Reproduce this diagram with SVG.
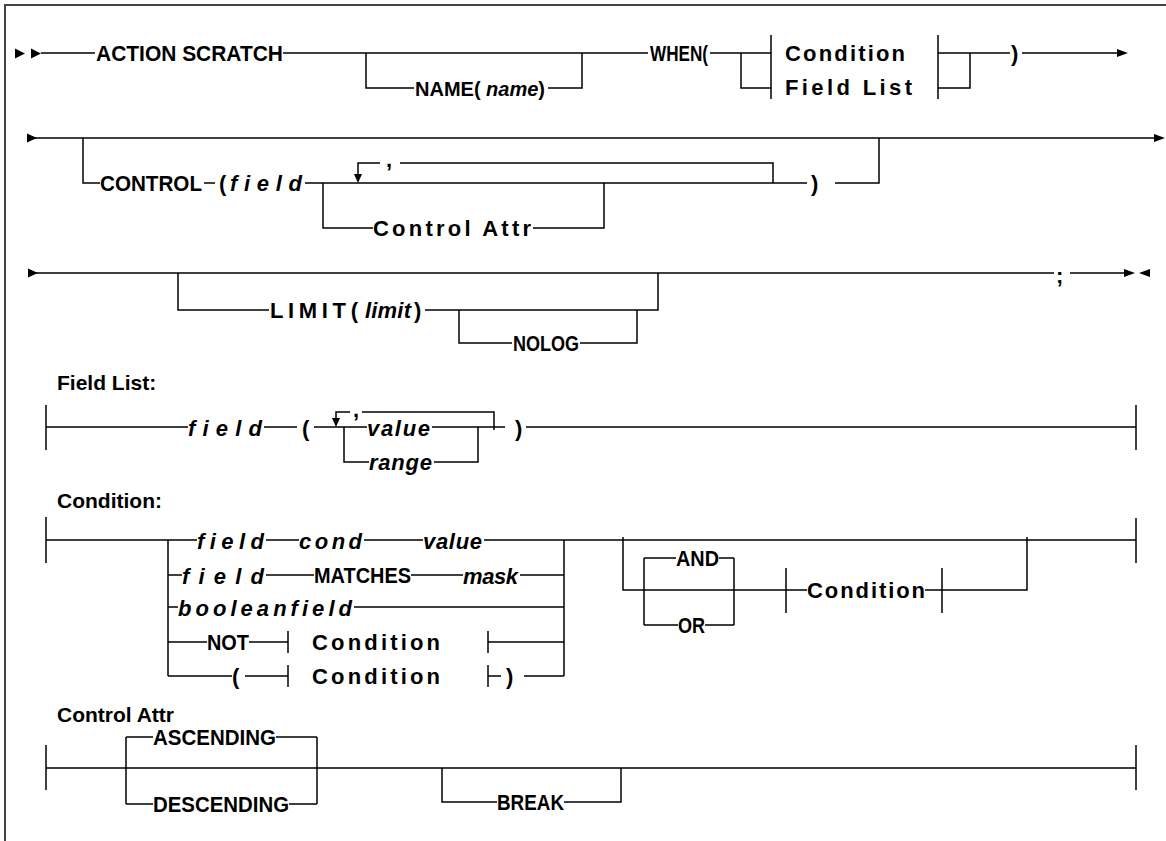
<svg xmlns="http://www.w3.org/2000/svg" width="1166" height="841" viewBox="0 0 1166 841">
<style>
.c{fill:none;stroke:#000;stroke-width:1.5}
.ah{fill:#000}
.t{font-family:"Liberation Sans",Arial,sans-serif;font-weight:bold;font-size:22px;fill:#000}
.i{font-style:italic}
.lbl{font-size:21px}
.frame{fill:none;stroke:#444;stroke-width:2}
</style>
<rect width="1166" height="841" fill="#fff"/>
<path class="frame" d="M5,841 V5 H1166"/>
<g id="connectors">
<!-- row 1 -->
<polygon class="ah" points="15,48.5 25,53.5 15,58.5"/>
<polygon class="ah" points="31,48.5 41,53.5 31,58.5"/>
<path class="c" d="M41,53 H95 M283,53 H648 M366,53 V88 H414 M548,88 H582 V53 M710,53 H771 M741,53 V88 H771 M771,35 V99 M938,35 V99 M938,53 H1010 M970,53 V88 H938 M1022,53 H1119"/>
<polygon class="ah" points="1117,49 1128,53 1117,57"/>
<!-- row 2 -->
<polygon class="ah" points="27,133.5 37,138 27,142.5"/>
<path class="c" d="M28,138 H1157 M83,138 V183 H100 M204,183 H215 M305,183 H807 M773,183 V163 H400 M380,163 H358 V175 M323,183 V228 H373 M533,228 H604 V183 M835,183 H879 V138"/>
<polygon class="ah" points="1154,134 1165,138 1154,142"/>
<polygon class="ah" points="354,174 362,174 358,183"/>
<!-- row 3 -->
<polygon class="ah" points="28,268.5 38,273 28,277.5"/>
<path class="c" d="M29,273 H1054 M1070,273 H1126 M178,273 V310 H269 M425,310 H658 V273 M459,310 V343 H512 M580,343 H637 V310"/>
<polygon class="ah" points="1124,269 1135,273 1124,277"/>
<polygon class="ah" points="1150,269 1139,273 1150,277"/>
<!-- field list -->
<path class="c" d="M46,405 V450 M46,427 H188 M264,427 H297 M314,427 H367 M432,427 H505 M526,427 H1136 M494,430 V412 H362 M350,412 H336 V419 M344,427 V462 H369 M434,462 H478 V427 M1136,405 V450"/>
<polygon class="ah" points="332,418 340,418 336,427"/>
<!-- condition -->
<path class="c" d="M46,517 V563 M46,540 H197 M168,540 V676 M564,540 V676 M266,540 H299 M364,540 H423 M484,540 H1136 M1136,518 V563 M168,575 H182 M266,575 H314 M411,575 H463 M520,575 H564 M168,607 H178 M354,607 H564 M168,642 H207 M249,642 H288 M288,631 V653 M488,631 V653 M488,642 H564 M168,676 H232 M245,676 H288 M288,665 V687 M488,665 V687 M488,676 H501 M524,676 H564 M623,537 V590 H807 M644,558 V625 M734,558 V625 M644,558 H676 M719,558 H734 M644,625 H678 M705,625 H734 M786,568 V613 M925,590 H942 M942,568 V613 M942,590 H1027 V537"/>
<!-- control attr -->
<path class="c" d="M46,745 V790 M46,768 H1136 M1136,745 V790 M126,737 V804 M317,737 V804 M126,737 H153 M276,737 H317 M126,804 H153 M289,804 H317 M442,768 V802 H497 M564,802 H621 V768"/>
</g>
<g id="n-action"><text class="t" x="96" y="61" textLength="187" lengthAdjust="spacingAndGlyphs">ACTION SCRATCH</text></g>
<g id="n-name"><text class="t" x="415" y="96" style="font-size:20px">NAME( <tspan class="i">name</tspan>)</text></g>
<g id="n-when"><text class="t" x="650" y="61" textLength="58" lengthAdjust="spacingAndGlyphs">WHEN(</text></g>
<g id="n-cond-ref"><text class="t" x="785" y="61" textLength="120" lengthAdjust="spacing">Condition</text></g>
<g id="n-fieldlist-ref"><text class="t" x="785" y="95" textLength="127" lengthAdjust="spacing">Field List</text></g>
<g id="n-close1"><text class="t" x="1011" y="61">)</text></g>
<g id="n-control"><text class="t" x="100" y="191" textLength="102" lengthAdjust="spacingAndGlyphs">CONTROL</text></g>
<g id="n-open2"><text class="t" x="219" y="191">(</text></g>
<g id="n-field2"><text class="t i" x="230" y="191" textLength="72" lengthAdjust="spacing">field</text></g>
<g id="n-comma2"><text class="t" x="386" y="167">,</text></g>
<g id="n-ctlattr-ref"><text class="t" x="373" y="236" textLength="158" lengthAdjust="spacing">Control Attr</text></g>
<g id="n-close2"><text class="t" x="811" y="191">)</text></g>
<g id="n-limit">
<text class="t" x="270" y="318" textLength="88" lengthAdjust="spacing">LIMIT(</text>
<text class="t i" x="365" y="318" textLength="46" lengthAdjust="spacing">limit</text>
<text class="t" x="414" y="318">)</text>
</g>
<g id="n-nolog"><text class="t" x="513" y="351" textLength="66" lengthAdjust="spacingAndGlyphs">NOLOG</text></g>
<g id="n-semi"><text class="t" x="1056" y="283">;</text></g>
<g id="lbl-fieldlist"><text class="t lbl" x="57" y="390">Field List:</text></g>
<g id="n-fl-field"><text class="t i" x="188" y="436" textLength="74" lengthAdjust="spacing">field</text></g>
<g id="n-fl-open"><text class="t" x="302" y="436">(</text></g>
<g id="n-fl-comma"><text class="t" x="353" y="417">,</text></g>
<g id="n-fl-value"><text class="t i" x="367" y="436" textLength="63" lengthAdjust="spacing">value</text></g>
<g id="n-fl-range"><text class="t i" x="369" y="470" textLength="63" lengthAdjust="spacing">range</text></g>
<g id="n-fl-close"><text class="t" x="515" y="436">)</text></g>
<g id="lbl-condition"><text class="t lbl" x="57" y="508">Condition:</text></g>
<g id="n-c-field1"><text class="t i" x="197" y="549" textLength="67" lengthAdjust="spacing">field</text></g>
<g id="n-c-cond"><text class="t i" x="299" y="549" textLength="63" lengthAdjust="spacing">cond</text></g>
<g id="n-c-value"><text class="t i" x="423" y="549" textLength="59" lengthAdjust="spacing">value</text></g>
<g id="n-c-field2"><text class="t i" x="182" y="584" textLength="82" lengthAdjust="spacing">field</text></g>
<g id="n-c-matches"><text class="t" x="314" y="583" textLength="97" lengthAdjust="spacingAndGlyphs">MATCHES</text></g>
<g id="n-c-mask"><text class="t i" x="463" y="584" textLength="55" lengthAdjust="spacing">mask</text></g>
<g id="n-c-bool"><text class="t i" x="178" y="616" textLength="174" lengthAdjust="spacing">booleanfield</text></g>
<g id="n-c-not"><text class="t" x="207" y="650" textLength="42" lengthAdjust="spacingAndGlyphs">NOT</text></g>
<g id="n-c-notcond"><text class="t" x="312" y="650" textLength="128" lengthAdjust="spacing">Condition</text></g>
<g id="n-c-open"><text class="t" x="232" y="684">(</text></g>
<g id="n-c-parcond"><text class="t" x="312" y="684" textLength="128" lengthAdjust="spacing">Condition</text></g>
<g id="n-c-close"><text class="t" x="506" y="684">)</text></g>
<g id="n-c-and"><text class="t" x="676" y="566" textLength="43" lengthAdjust="spacingAndGlyphs">AND</text></g>
<g id="n-c-or"><text class="t" x="678" y="633" textLength="27" lengthAdjust="spacingAndGlyphs">OR</text></g>
<g id="n-c-loopcond"><text class="t" x="807" y="598" textLength="118" lengthAdjust="spacing">Condition</text></g>
<g id="lbl-controlattr"><text class="t lbl" x="57" y="722">Control Attr</text></g>
<g id="n-asc"><text class="t" x="153" y="745" textLength="123" lengthAdjust="spacingAndGlyphs">ASCENDING</text></g>
<g id="n-desc"><text class="t" x="153" y="812" textLength="136" lengthAdjust="spacingAndGlyphs">DESCENDING</text></g>
<g id="n-break"><text class="t" x="497" y="810" textLength="67" lengthAdjust="spacingAndGlyphs">BREAK</text></g>
</svg>
